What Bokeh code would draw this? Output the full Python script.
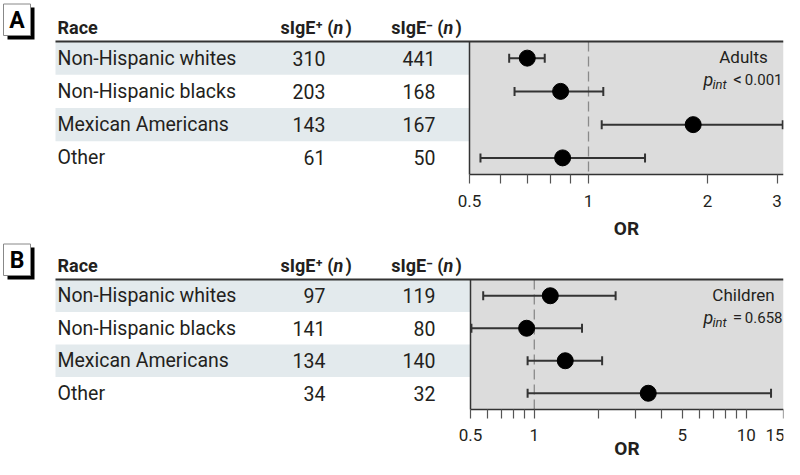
import numpy as np
from bokeh.plotting import figure
from bokeh.models import Range1d, LogScale, LogAxis, FixedTicker, NumeralTickFormatter
from bokeh.layouts import column
from bokeh.embed import file_html
from bokeh.resources import INLINE
from bokeh.core.properties import value

# ---------------- data ----------------
races = ["Non-Hispanic whites", "Non-Hispanic blacks", "Mexican Americans", "Other"]

adult_pos = [310, 203, 143, 61]
adult_neg = [441, 168, 167, 50]
adult_or = [0.70, 0.85, 1.84, 0.86]
adult_lo = [0.63, 0.65, 1.08, 0.533]
adult_hi = [0.775, 1.09, 3.10, 1.39]
adult_ticks = [0.5, 1, 2, 3]
adult_minor = [0.6, 0.7, 0.8, 0.9]
adult_label = "Adults"
adult_pint = ["<", "0.001"]

child_pos = [97, 141, 134, 34]
child_neg = [119, 80, 140, 32]
child_or = [1.19, 0.92, 1.40, 3.45]
child_lo = [0.574, 0.505, 0.93, 0.93]
child_hi = [2.42, 1.68, 2.09, 13.1]
child_ticks = [0.5, 1, 5, 10, 15]
child_minor = [0.6, 0.7, 0.8, 0.9, 2, 3, 4, 6, 7, 8, 9]
child_label = "Children"
child_pint = ["=", "0.658"]

axis_title = "OR"

FONT = "Roboto"
TXT = "#231f20"
BAND = "#e3eaed"
GRAY = "#dcdcdc"
LINE = "#333333"

W = 784
RIGHT = 783


def make_panel(letter, pos, neg, orv, lo, hi, ticks, minor, group, pint,
               height, box_top, header_y, frame_top, axis_y, or_left, xmax,
               tick_standoff, or_y):
    row_h = (axis_y - frame_top) / 4.0
    ytop = -0.5 - frame_top / row_h
    ybot = 3.5 + (height - axis_y) / row_h
    px_oct = (RIGHT - or_left) / np.log2(xmax / 0.5)
    or_start = 0.5 * 2 ** (-or_left / px_oct)
    p = figure(width=W, height=height, output_backend="svg", toolbar_location=None,
               x_range=Range1d(0, RIGHT), y_range=Range1d(ybot, ytop),
               x_axis_location=None, y_axis_location=None,
               min_border_left=0, min_border_right=W - RIGHT, min_border_top=0,
               min_border_bottom=0,
               outline_line_color=None, background_fill_color="white",
               border_fill_color="white")
    p.extra_x_ranges = {"or": Range1d(or_start, xmax)}
    p.extra_x_scales = {"or": LogScale()}
    p.extra_y_ranges = {"px": Range1d(height, 0)}
    p.grid.visible = False

    rows = list(range(len(races)))
    tleft = 55

    # table bands
    band_rows = [r for r in rows if r % 2 == 0]
    p.quad(left=tleft, right=or_left, top=[r - 0.5 for r in band_rows],
           bottom=[r + 0.5 for r in band_rows], fill_color=BAND, line_color=None)
    # plot background
    p.quad(left=[0.5], right=[xmax], top=[-0.5], bottom=[3.5], fill_color=GRAY,
           line_color=None, x_range_name="or")
    # reference line at OR = 1
    p.segment(x0=[1], x1=[1], y0=[-0.5], y1=[3.5], line_color="#8a8a8a",
              line_dash="10 5", line_width=1.3, x_range_name="or")
    # borders
    p.segment(x0=[tleft], x1=[RIGHT], y0=[-0.5], y1=[-0.5], line_color=LINE, line_width=2)
    p.segment(x0=[0.5], x1=[0.5], y0=[-0.5], y1=[3.5], line_color=LINE,
              line_width=1.5, x_range_name="or")

    # error bars
    p.segment(x0=lo, x1=hi, y0=rows, y1=rows, line_color=LINE, line_width=2,
              x_range_name="or")
    p.scatter(x=lo + hi, y=rows + rows, marker="dash", size=9, angle=np.pi / 2,
              line_color=LINE, line_width=2, x_range_name="or")
    p.scatter(x=orv, y=rows, marker="circle", size=16, fill_color="black",
              line_color="black", x_range_name="or")

    # table text
    tkw = dict(text_font=value(FONT), text_font_size="19.5px", text_color=TXT,
               text_baseline="middle")
    p.text(x=tleft + 2, y=rows, text=races, text_align="left", **tkw)
    p.text(x=325, y=rows, text=[str(v) for v in pos], text_align="right", **tkw)
    p.text(x=435, y=rows, text=[str(v) for v in neg], text_align="right", **tkw)

    # header
    hkw = dict(text_font=value(FONT), text_font_size="18px", text_color=TXT,
               text_baseline="middle", y_range_name="px")
    p.text(x=[tleft + 2], y=[header_y], text=["Race"], text_font_style="bold",
           text_align="left", **hkw)
    p.text(x=[333, 443], y=[header_y, header_y], text=["sIgE\u207a (", "sIgE\u207b ("],
           text_font_style="bold", text_align="right", **hkw)
    p.text(x=[333, 443], y=[header_y, header_y], text=["n", "n"],
           text_font_style="bold italic", text_align="left", **hkw)
    p.text(x=[345, 455], y=[header_y, header_y], text=[")", ")"],
           text_font_style="bold", text_align="left", **hkw)

    # panel letter box
    p.quad(left=[7], right=[34], top=[box_top + 4], bottom=[box_top + 36],
           fill_color="black", line_color=None, y_range_name="px")
    p.quad(left=[3], right=[30], top=[box_top + 0.5], bottom=[box_top + 32],
           fill_color="white", line_color="#888888", line_width=1, y_range_name="px")
    p.text(x=[16.5], y=[box_top + 17], text=[letter], text_font=value(FONT),
           text_font_size="23px", text_font_style="bold", text_color="black",
           text_align="center", text_baseline="middle", y_range_name="px")

    # group annotation
    gy = frame_top + 15.5
    akw = dict(text_font=value(FONT), text_color=TXT, text_baseline="middle",
               y_range_name="px")
    p.text(x=[743], y=[gy], text=[group], text_font_size="17px", text_align="center", **akw)
    p.text(x=[703], y=[gy + 22], text=["p"], text_font_size="18px", text_font_style="italic",
           text_align="left", **akw)
    p.text(x=[712], y=[gy + 27], text=["int"], text_font_size="13px", text_font_style="italic",
           text_align="left", **akw)
    p.text(x=[737], y=[gy + 22], text=[pint[0]], text_font_size="17px", text_align="center", **akw)
    p.text(x=[782], y=[gy + 22], text=[pint[1]], text_font_size="15px", text_align="right", **akw)

    # axis (drawn at the bottom of the plot rows, inside the frame)
    ax = LogAxis(x_range_name="or", ticker=FixedTicker(ticks=ticks, minor_ticks=minor),
                 formatter=NumeralTickFormatter(format="0.[0]"), bounds=(0.5, xmax),
                 fixed_location=3.5)
    ax.axis_line_color = LINE
    ax.axis_line_width = 1.5
    ax.major_tick_in = 0
    ax.major_tick_out = 9
    ax.minor_tick_in = 0
    ax.minor_tick_out = 9
    ax.major_tick_line_color = "#555555"
    ax.minor_tick_line_color = "#555555"
    ax.major_tick_line_width = 1.2
    ax.minor_tick_line_width = 1.2
    ax.major_label_text_font = FONT
    ax.major_label_text_font_size = "17px"
    ax.major_label_text_color = TXT
    ax.major_label_standoff = tick_standoff
    p.add_layout(ax, "below")

    # axis title, centred under the plot area
    p.text(x=[np.sqrt(0.5 * xmax)], y=[or_y], text=[axis_title], x_range_name="or",
           y_range_name="px", text_font=value(FONT), text_font_size="19px",
           text_font_style="bold", text_color=TXT, text_align="center",
           text_baseline="middle")
    return p


pa = make_panel("A", adult_pos, adult_neg, adult_or, adult_lo, adult_hi,
                adult_ticks, adult_minor, adult_label, adult_pint,
                height=239, box_top=3, header_y=27, frame_top=41, axis_y=174,
                or_left=469, xmax=0.5 * 2 ** (314 / 119.0),
                tick_standoff=11, or_y=228)
pb = make_panel("B", child_pos, child_neg, child_or, child_lo, child_hi,
                child_ticks, child_minor, child_label, child_pint,
                height=220, box_top=4, header_y=26, frame_top=40, axis_y=170,
                or_left=470, xmax=15.0,
                tick_standoff=10, or_y=209)

layout = column(pa, pb, spacing=0)
open("out.html", "w").write(file_html(layout, INLINE))
